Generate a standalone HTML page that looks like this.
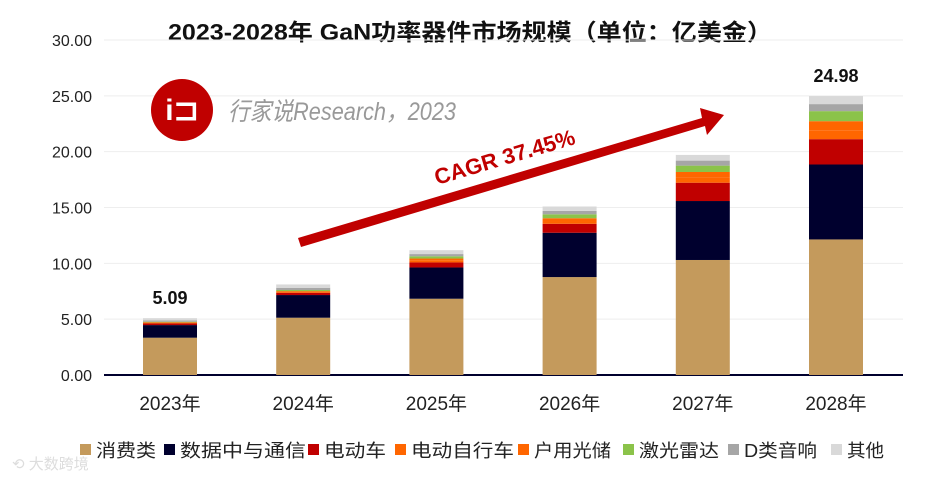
<!DOCTYPE html>
<html><head><meta charset="utf-8"><style>
body{margin:0;background:#fff;}
svg{display:block;font-family:"Liberation Sans","Noto Sans CJK SC",sans-serif;}
</style></head><body>
<svg id="c" width="939" height="486" viewBox="0 0 939 486">
<text x="470" y="40" text-anchor="middle" font-size="23" font-weight="bold" fill="#111" textLength="604" lengthAdjust="spacingAndGlyphs">2023-2028年 GaN功率器件市场规模（单位：亿美金）</text>
<g id="grid"></g>
<g id="bars"></g>
<g>
<circle cx="182" cy="110" r="31" fill="#c00000"/>
<text x="182" y="120" text-anchor="middle" font-size="30" font-weight="bold" fill="#fff">i⊐</text>
<text x="228" y="120" font-size="25" fill="#999" font-style="italic" textLength="228" lengthAdjust="spacingAndGlyphs">行家说Research，2023</text>
</g>
<g>
<polygon points="298,238 702,118 700,108 724,115 707,135 705,126 301,247" fill="#c00000"/>
<text x="0" y="0" transform="translate(437,185) rotate(-16.5)" font-size="22" font-weight="bold" fill="#c00000">CAGR 37.45%</text>
</g>
<g id="legend"></g>
<text x="12" y="469" font-size="15" fill="#ddd">⟲ 大数跨境</text>
</svg>
<script>
const categories=["2023年","2024年","2025年","2026年","2027年","2028年"];
const seriesNames=["消费类","数据中与通信","电动车","电动自行车","户用光储","激光雷达","D类音响","其他"];
const colors=["#c49a5c","#00002e","#c00000","#ff6600","#ff6600","#8bc34a","#a6a6a6","#d9d9d9"];
const consumer=[3.34,5.13,6.83,8.77,10.3,12.14];
const datacenter=[1.13,2.03,2.8,3.97,5.28,6.71];
const ev=[0.15,0.2,0.45,0.8,1.64,2.27];
const ebike=[0.1,0.15,0.2,0.25,0.5,0.8];
const pv=[0,0,0.15,0.25,0.46,0.81];
const lidar=[0.05,0.1,0.2,0.35,0.57,0.9];
const audio=[0.12,0.2,0.2,0.3,0.45,0.63];
const other=[0.2,0.3,0.35,0.4,0.51,0.72];
const totals=[5.09,null,null,null,null,24.98];
const yTicks=[0,5,10,15,20,25,30];
const series=[consumer,datacenter,ev,ebike,pv,lidar,audio,other];
const NS="http://www.w3.org/2000/svg";
const y0=375,pxPer=335/30,xL=104,xR=903,bw=54;
function y(v){return y0-v*pxPer;}
function xc(i){return 170+i*133.2;}
function mk(t,a,p){const e=document.createElementNS(NS,t);for(const k in a)e.setAttribute(k,a[k]);p.appendChild(e);return e;}
const grid=document.getElementById('grid');
yTicks.forEach(t=>{
 const l=mk('line',{x1:xL,x2:xR,y1:y(t),y2:y(t),stroke:t===0?'#00002e':'#eeeeee','stroke-width':t===0?2:1},grid);
 
 
 const tx=mk('text',{x:92,y:y(t)+6,'text-anchor':'end','font-size':16,fill:'#222'},grid);
 tx.textContent=t.toFixed(2);
 
 
});
const bars=document.getElementById('bars');
categories.forEach((c,i)=>{
 let acc=0;
 series.forEach((s,k)=>{
  const v=s[i];
  if(v>0){const r=mk('rect',{x:xc(i)-bw/2,y:y(acc+v),width:bw,height:v*pxPer,fill:colors[k]},bars);
  
  }
  acc+=v;
 });
 const t=mk('text',{x:xc(i),y:410,'text-anchor':'middle','font-size':19,fill:'#222'},bars);
 t.textContent=c;
 
 
 if(totals[i]!==null){
  const tl=mk('text',{x:xc(i),y:y(acc)-14,'text-anchor':'middle','font-size':18,'font-weight':'bold',fill:'#111'},bars);
  tl.textContent=totals[i].toFixed(2);
  
  
 }
});
const lg=document.getElementById('legend');
const lxs=[80,164,308,395,518,623,728,831];
const lws=[60,126,62,103,77,80,73,37];
seriesNames.forEach((n,k)=>{
 const lx=lxs[k];
 const r=mk('rect',{x:lx,y:444,width:11,height:11,fill:colors[k]},lg);
 
 
 const t=mk('text',{x:lx+16,y:457,'font-size':18,fill:'#222',textLength:lws[k],lengthAdjust:'spacingAndGlyphs'},lg);
 t.textContent=n;
 
 
});
</script>
</body></html>
